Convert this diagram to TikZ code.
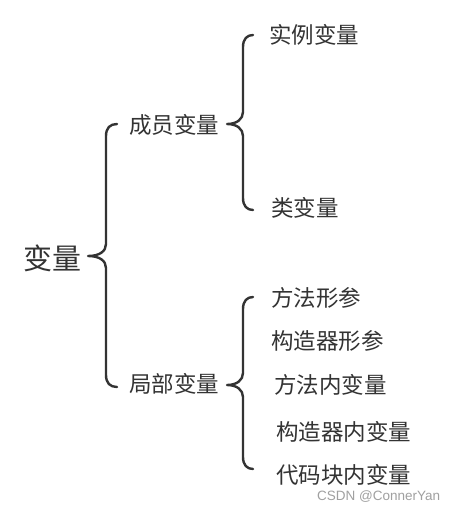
\documentclass[tikz,border=0pt]{standalone}
\usepackage{fontspec}
\newfontfamily\cjk{Noto Sans CJK SC}
\newfontfamily\wmfont{Liberation Sans}
\definecolor{ink}{HTML}{333333}
\definecolor{wmgray}{HTML}{A0A0A0}
\newcommand\vbrace[6]{% xv, top, tipx, tipy, bot, hookx
  \draw[bracestyle] (#6,#2) .. controls ({#1+4},#2) and (#1,{#2+4}) .. (#1,{#2+12})
    -- (#1,{#4-12}) .. controls (#1,{#4-5}) and ({#1-6},#4) .. (#3,#4)
    .. controls ({#1-6},#4) and (#1,{#4+5}) .. (#1,{#4+12})
    -- (#1,{#5-12}) .. controls (#1,{#5-4}) and ({#1+4},#5) .. (#6,#5);}
\tikzset{
  bracestyle/.style={draw=ink, line width=2.4pt, line cap=round, line join=round},
  item/.style={anchor=west, inner sep=0pt, text=ink, font=\cjk\fontsize{22.5}{26}\selectfont},
  rootitem/.style={anchor=west, inner sep=0pt, text=ink, font=\cjk\fontsize{29}{33}\selectfont},
  wm/.style={anchor=west, inner sep=0pt, text=wmgray, font=\wmfont\fontsize{13.5}{16}\selectfont}
}
\begin{document}
\begin{tikzpicture}[x=1pt,y=-1pt]
\useasboundingbox[fill=white] (0,0) rectangle (458,512);
\node[rootitem] (root) at (23,258) {变量};
\node[item] (m) at (129,125) {成员变量};
\node[item] (l) at (129,384) {局部变量};
\node[item] (m1) at (269,35) {实例变量};
\node[item] (m2) at (271,208) {类变量};
\node[item] (l1) at (271,298) {方法形参};
\node[item] (l2) at (271,341) {构造器形参};
\node[item] (l3) at (274,385) {方法内变量};
\node[item] (l4) at (276,432) {构造器内变量};
\node[item] (l5) at (276,475) {代码块内变量};
\node[wm] (wmk) at (317,497) {CSDN @ConnerYan};
\vbrace{106}{124}{88}{256}{387}{117}
\vbrace{243}{35}{227}{124}{210}{253}
\vbrace{243}{297}{227}{385}{469}{253}
\end{tikzpicture}
\end{document}
